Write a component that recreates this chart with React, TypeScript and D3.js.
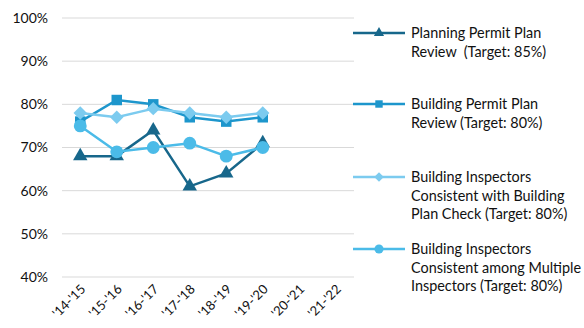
import React, { useEffect, useRef } from 'react'
import * as d3 from 'd3'

const categories = ["'14-'15", "'15-'16", "'16-'17", "'17-'18", "'18-'19", "'19-'20", "'20-'21", "'21-'22"]
const planning = [68, 68, 74, 61, 64, 71]
const buildingPermit = [76, 81, 80, 77, 76, 77]
const inspectorsPlanCheck = [78, 77, 79, 78, 77, 78]
const inspectorsMultiple = [75, 69, 70, 71, 68, 70]
const yTicks = [40, 50, 60, 70, 80, 90, 100]

const series = [
  { label: ['Planning Permit Plan', 'Review  (Target: 85%)'], values: planning, color: '#17678b', symbol: d3.symbolTriangle, size: 90, rot: 0 },
  { label: ['Building Permit Plan', 'Review (Target: 80%)'], values: buildingPermit, color: '#1d96cc', symbol: d3.symbolSquare, size: 110, rot: 0 },
  { label: ['Building Inspectors', 'Consistent with Building', 'Plan Check (Target: 80%)'], values: inspectorsPlanCheck, color: '#7ccbef', symbol: d3.symbolSquare, size: 90, rot: 45 },
  { label: ['Building Inspectors', 'Consistent among Multiple', 'Inspectors (Target: 80%)'], values: inspectorsMultiple, color: '#4bbbe8', symbol: d3.symbolCircle, size: 130, rot: 0 },
]

export default function App() {
  const ref = useRef<SVGSVGElement>(null)

  useEffect(() => {
    const svg = d3.select(ref.current)
    svg.selectAll('*').remove()
    const font = 'Lato, "Open Sans", sans-serif'

    const x = d3.scaleBand().domain(categories).range([62, 354])
    const y = d3.scaleLinear().domain([40, 100]).range([277, 18])
    const cx = (i: number) => (x(categories[i]) as number) + x.bandwidth() / 2

    // gridlines
    svg.append('g')
      .selectAll('line')
      .data(yTicks)
      .join('line')
      .attr('x1', 62).attr('x2', 354)
      .attr('y1', d => y(d)).attr('y2', d => y(d))
      .attr('stroke', '#d9d9d9').attr('stroke-width', 1)

    svg.append('g')
      .selectAll('text')
      .data(yTicks)
      .join('text')
      .attr('x', 48).attr('y', d => y(d))
      .attr('dy', '0.35em')
      .attr('text-anchor', 'end')
      .style('font-family', font).style('font-size', '14px').attr('fill', '#111')
      .text(d => d + '%')

    svg.append('g')
      .selectAll('text')
      .data(categories)
      .join('text')
      .attr('transform', (d, i) => `translate(${cx(i) + 6},${290}) rotate(-45)`)
      .attr('text-anchor', 'end')
      .style('font-family', font).style('font-size', '13px').attr('fill', '#111')
      .text(d => d)

    const line = d3.line<number>().x((d, i) => cx(i)).y(d => y(d))

    series.forEach(s => {
      const g = svg.append('g')
      g.append('path').datum(s.values).attr('d', line)
        .attr('fill', 'none').attr('stroke', s.color).attr('stroke-width', 2.5)
      g.selectAll('path.m').data(s.values).join('path').attr('class', 'm')
        .attr('transform', (d, i) => `translate(${cx(i)},${y(d)}) rotate(${s.rot})`)
        .attr('d', d3.symbol().type(s.symbol).size(s.size)())
        .attr('fill', s.color)
    })

    // legend
    const legendY = [33, 104, 177, 249]
    series.forEach((s, k) => {
      const g = svg.append('g').attr('transform', `translate(0,${legendY[k]})`)
      g.append('line').attr('x1', 353).attr('x2', 405).attr('y1', 0).attr('y2', 0)
        .attr('stroke', s.color).attr('stroke-width', 2.5)
      g.append('path').attr('transform', `translate(379,0) rotate(${s.rot})`)
        .attr('d', d3.symbol().type(s.symbol).size(s.size * 0.5)())
        .attr('fill', s.color)
      g.selectAll('text').data(s.label).join('text')
        .attr('x', 411).attr('y', (d, i) => i * 18.5)
        .attr('dy', '0.35em')
        .style('font-family', font).style('font-size', '14.4px').style('white-space', 'pre')
        .attr('fill', '#111')
        .text(d => d)
    })
  }, [])

  return (
    <svg ref={ref} width={584} height={328} style={{ position: 'absolute', left: 0, top: 0, background: '#fff' }} />
  )
}
